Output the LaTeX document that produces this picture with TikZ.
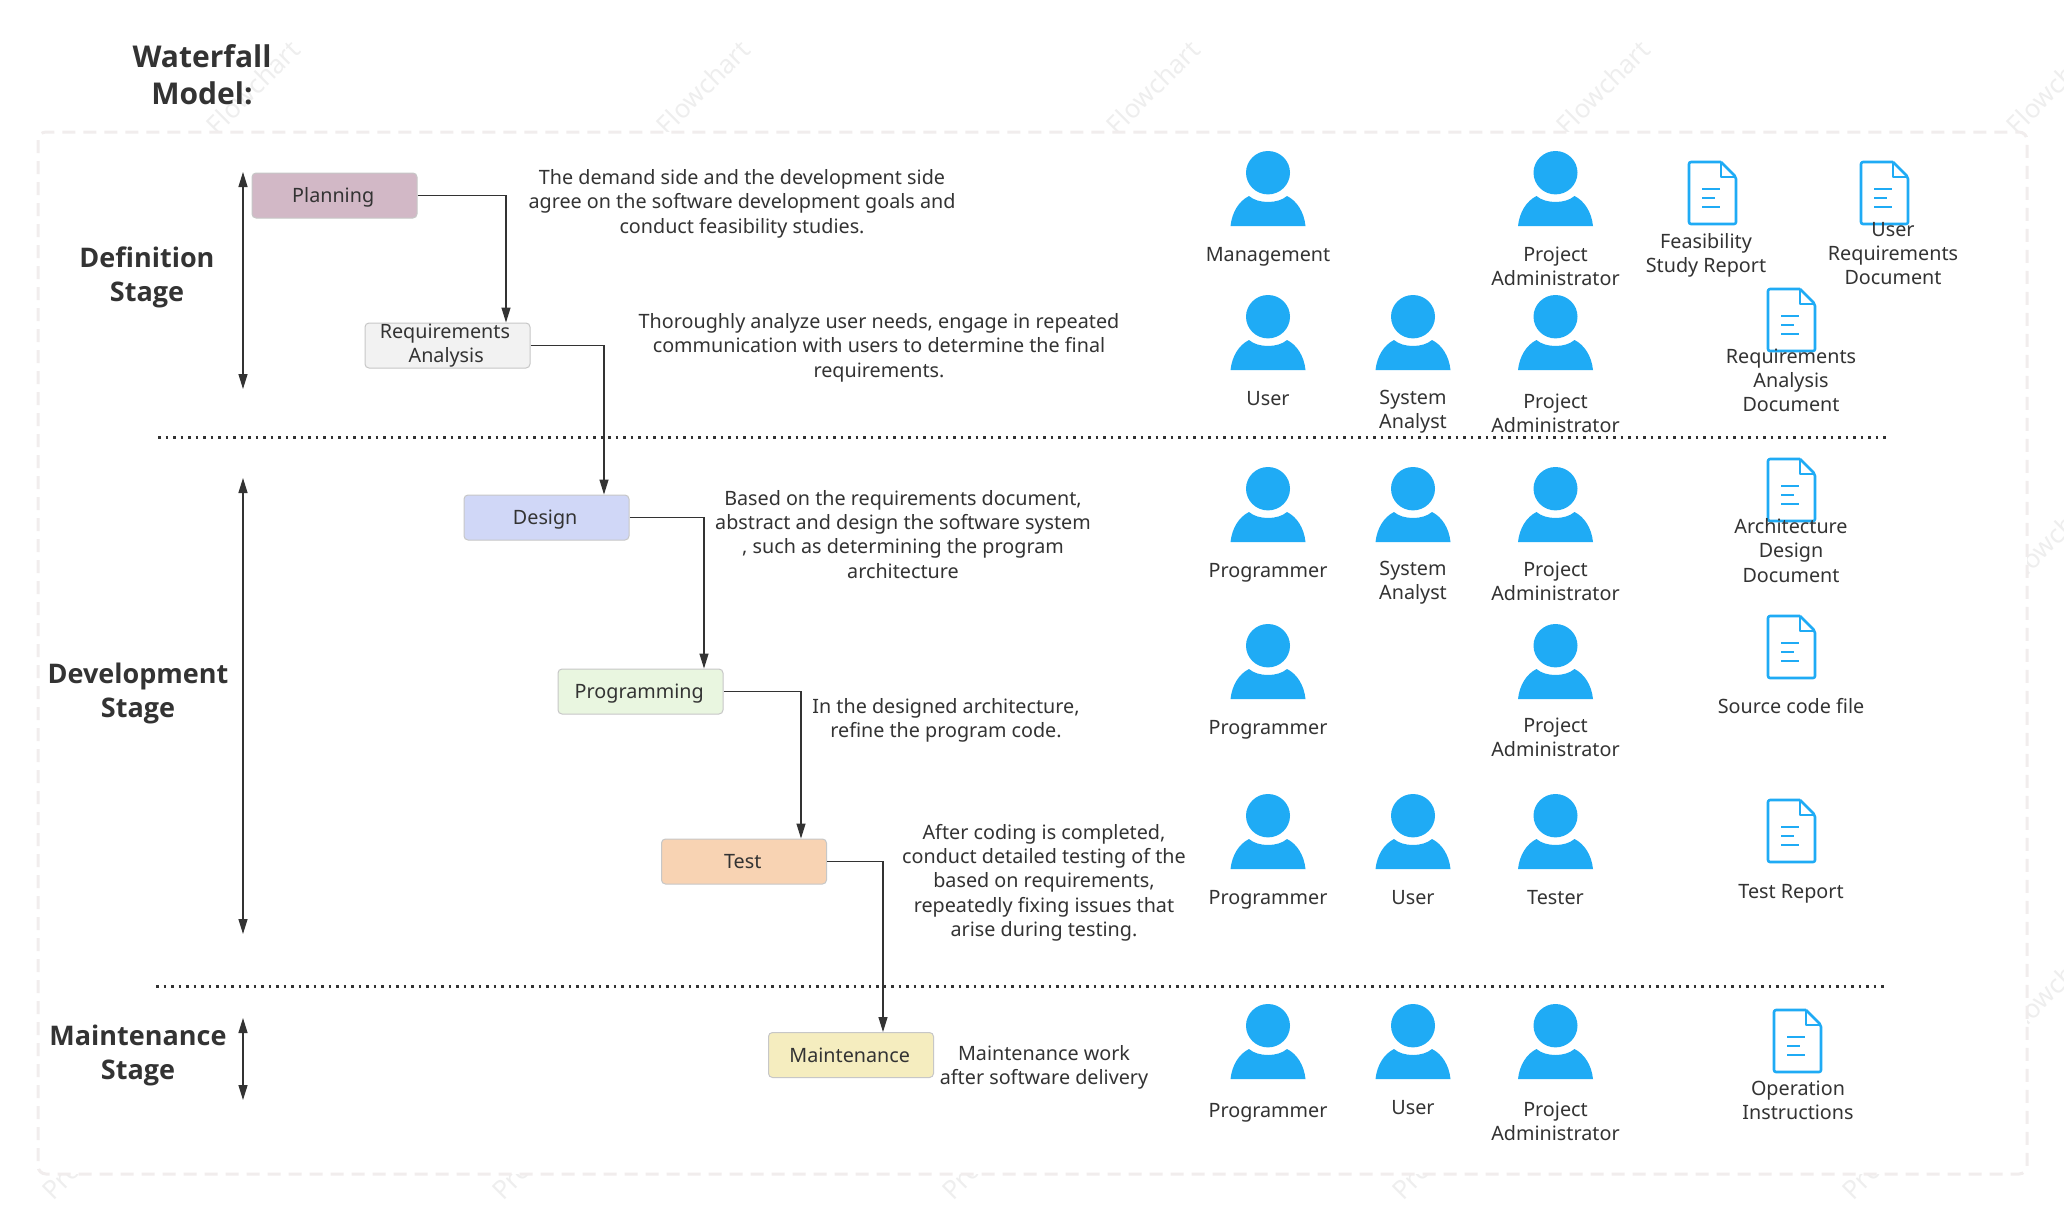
\documentclass[tikz,border=0pt]{standalone}
\usepackage{fontspec}
\setmainfont{Noto Sans}
\newfontfamily\headfont{Open Sans}
\usetikzlibrary{arrows.meta,calc}
\definecolor{ink}{HTML}{333333}
\definecolor{iconblue}{HTML}{1FABF5}
\definecolor{frame}{HTML}{F1EDED}
\definecolor{wm}{HTML}{EEEEEE}
\tikzset{
  x=1pt,y=-1pt,
  body/.style={font=\fontsize{19.75}{24.3}\selectfont,text=ink,align=center,inner sep=0pt,yshift=-3.9pt,execute at begin node=\strut,execute at end node=\strut},
  head/.style={font=\headfont\bfseries\fontsize{27}{34.5}\selectfont,text=ink,align=center,inner sep=0pt,yshift=-4.6pt,execute at begin node=\strut,execute at end node=\strut},
  stagebox/.style={draw=black!22,line width=1pt,rounded corners=4pt,minimum width=165pt,minimum height=45pt,inner sep=0pt,text=ink,align=center,font=\fontsize{19.75}{24.3}\selectfont,execute at begin node={\rule{0pt}{22pt}},execute at end node={\strut\hspace*{2.6pt}}},
  conn/.style={draw=ink,line width=1.2pt,-{Triangle[length=15pt,width=9pt]}},
  span/.style={draw=ink,line width=1.3pt,{Triangle[length=15pt,width=9pt]}-{Triangle[length=15pt,width=9pt]}},
  sep/.style={draw=ink,line width=2.6pt,dash pattern=on 2.6pt off 4.9pt},
  wmtext/.style={font=\fontsize{26}{26}\selectfont,text=wm,rotate=45,inner sep=0pt},
}
\newcommand{\person}[3]{%
  \begin{scope}[shift={(#1,#2)}]
    \fill[iconblue] (-37.5,75) .. controls (-36,61) and (-29,50) .. (-19,45) .. controls (-10,53) and (10,53) .. (19,45) .. controls (29,50) and (36,61) .. (37.5,75) -- cycle;
    \fill[iconblue] (0,21.7) ellipse [x radius=22,y radius=21.7];
  \end{scope}
  \coordinate (#3) at (#1,#2);}
\newcommand{\docicon}[3]{%
  \begin{scope}[shift={(#1,#2)},line width=2.6pt,draw=iconblue,line join=round]
    \draw[rounded corners=2pt] (32,0) -- (0,0) -- (0,62) -- (47,62) -- (47,15) -- (32,0);
    \draw (32,0) -- (32,15) -- (47,15);
    \draw (13,27) -- (31,27);
    \draw (13,36) -- (26,36);
    \draw (13,45) -- (31,45);
  \end{scope}
  \coordinate (#3) at (#1,#2);}
\begin{document}
\begin{tikzpicture}
\useasboundingbox (0,0) rectangle (2064,1211);
\begin{scope}
\clip (0,0) rectangle (2064,1211);
\foreach \wx in {253,703,1153,1603,2053}{\node[wmtext] at (\wx,87) {Flowchart};}
\foreach \wy in {537,987}{\node[wmtext] at (2053,\wy) {Flowchart};}
\foreach \wx in {47,497,947,1397,1847}{\node[wmtext,anchor=west] at (\wx,1195) {Pro};}
\fill[white] (38,132) rectangle (2027,1174);
\end{scope}
\draw[frame,line width=3pt,dash pattern=on 13pt off 8pt,rounded corners=8pt] (38,132) rectangle (2027,1174);

\node[head,font=\headfont\bfseries\fontsize{30}{37}\selectfont] (title) at (202,75.5) {Waterfall\\Model:};
\node[head] (defstage) at (147,274.5) {Definition\\Stage};
\node[head] (devstage) at (138,690.8) {Development\\Stage};
\node[head] (mntstage) at (138,1052.7) {Maintenance\\Stage};

\coordinate (da) at (243,172); \coordinate (db) at (243,389);
\coordinate (ea) at (243,478); \coordinate (eb) at (243,934);
\coordinate (fa) at (243,1018); \coordinate (fb) at (243,1100);
\draw[span] (da) -- (db);
\draw[span] (ea) -- (eb);
\draw[span] (fa) -- (fb);

\coordinate (s1a) at (158,437.5); \coordinate (s1b) at (1887,437.5);
\coordinate (s2a) at (156,986.5); \coordinate (s2b) at (1887,986.5);
\draw[sep] (s1a) -- (s1b);
\draw[sep] (s2a) -- (s2b);

\node[stagebox,fill={rgb,255:red,210;green,184;blue,198}] (planning) at (334.5,195.5) {Planning};
\node[stagebox,fill={rgb,255:red,242;green,242;blue,242}] (req) at (447.5,345.5) {\raisebox{-3pt}{Requirements}\hspace*{2.6pt}\\\raisebox{-3pt}{Analysis}};
\node[stagebox,fill={rgb,255:red,208;green,215;blue,247}] (design) at (546.5,517.5) {Design};
\node[stagebox,fill={rgb,255:red,233;green,246;blue,224}] (prog) at (640.5,691.5) {Programming};
\node[stagebox,fill={rgb,255:red,248;green,211;blue,179}] (test) at (744,861.5) {Test};
\node[stagebox,fill={rgb,255:red,245;green,237;blue,191}] (maint) at (851,1055) {Maintenance};

\draw[conn] (planning.east) -| ([xshift=58.5pt]req.north);
\draw[conn] (req.east) -| ([xshift=57.5pt]design.north);
\draw[conn] (design.east) -| ([xshift=63.5pt]prog.north);
\draw[conn] (prog.east) -| ([xshift=57pt]test.north);
\draw[conn] (test.east) -| ([xshift=32pt]maint.north);

\node[body] (t1) at (742,201) {The demand side and the development side\\agree on the software development goals and\\conduct feasibility studies.};
\node[body] (t2) at (879,345) {Thoroughly analyze user needs, engage in repeated\\communication with users to determine the final\\requirements.};
\node[body] (t3) at (903,534) {Based on the requirements document,\\abstract and design the software system\\, such as determining the program\\architecture};
\node[body] (t4) at (946,718) {In the designed architecture,\\refine the program code.};
\node[body] (t5) at (1044,880) {After coding is completed,\\conduct detailed testing of the\\based on requirements,\\repeatedly fixing issues that\\arise during testing.};
\node[body] (t6) at (1044,1065) {Maintenance work\\after software delivery};

\person{1268}{151}{p1}\node[body] (l1) at (1268,252.7) {Management};
\person{1555.5}{151}{p2}\node[body] (l2) at (1555.5,266) {Project\\Administrator};
\person{1268}{295}{p3}\node[body] (l3) at (1268,396.7) {User};
\person{1413}{295}{p4}\node[body] (l4) at (1413,409) {System\\Analyst};
\person{1555.5}{295}{p5}\node[body] (l5) at (1555.5,413) {Project\\Administrator};
\person{1268}{467}{p6}\node[body] (l6) at (1268,568.7) {Programmer};
\person{1413}{467}{p7}\node[body] (l7) at (1413,580) {System\\Analyst};
\person{1555.5}{467}{p8}\node[body] (l8) at (1555.5,581) {Project\\Administrator};
\person{1268}{624}{p9}\node[body] (l9) at (1268,725.7) {Programmer};
\person{1555.5}{624}{p10}\node[body] (l10) at (1555.5,737) {Project\\Administrator};
\person{1268}{794}{p11}\node[body] (l11) at (1268,895.7) {Programmer};
\person{1413}{794}{p12}\node[body] (l12) at (1413,895.7) {User};
\person{1555.5}{794}{p13}\node[body] (l13) at (1555.5,895.7) {Tester};
\person{1268}{1004}{p14}\node[body] (l14) at (1268,1108.7) {Programmer};
\person{1413}{1004}{p15}\node[body] (l15) at (1413,1105.7) {User};
\person{1555.5}{1004}{p16}\node[body] (l16) at (1555.5,1121) {Project\\Administrator};

\docicon{1689}{162}{d1}\node[body] (m1) at (1706,253) {Feasibility\\Study Report};
\docicon{1861}{162}{d2}\node[body] (m2) at (1893,253) {User\\Requirements\\Document};
\docicon{1768}{289}{d3}\node[body] (m3) at (1791,380) {Requirements\\Analysis\\Document};
\docicon{1768}{459}{d4}\node[body] (m4) at (1791,550) {Architecture\\Design\\Document};
\docicon{1768}{616}{d5}\node[body] (m5) at (1791,705) {Source code file};
\docicon{1768}{800}{d6}\node[body] (m6) at (1791,890) {Test Report};
\docicon{1774}{1010}{d7}\node[body] (m7) at (1798,1100) {Operation\\Instructions};
\end{tikzpicture}
\end{document}
